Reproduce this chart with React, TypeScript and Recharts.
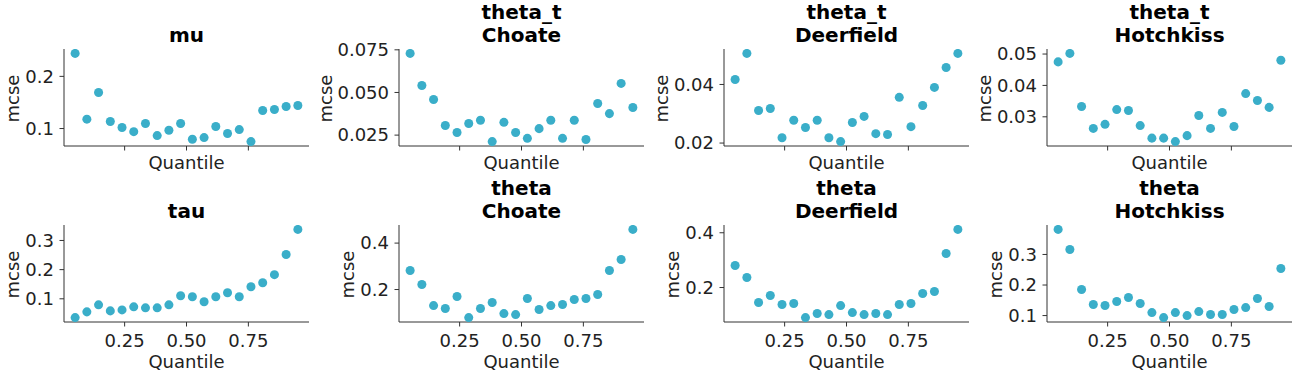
import React from 'react';
import { ScatterChart, Scatter, XAxis, YAxis } from 'recharts';

// ---------- DATA ----------
const QUANTILES = [0.05, 0.0974, 0.1447, 0.1921, 0.2395, 0.2868, 0.3342, 0.3816, 0.4289, 0.4763, 0.5237, 0.5711, 0.6184, 0.6658, 0.7132, 0.7605, 0.8079, 0.8553, 0.9026, 0.95];
const X_TICKS = [0.25, 0.5, 0.75];

const MU = [0.244, 0.118, 0.169, 0.1135, 0.102, 0.094, 0.1096, 0.0865, 0.0967, 0.1096, 0.0794, 0.0827, 0.1038, 0.0904, 0.098, 0.075, 0.1346, 0.1365, 0.1423, 0.1442];
const THETA_T_CHOATE = [0.0729, 0.0541, 0.0459, 0.0306, 0.0265, 0.0318, 0.0337, 0.0212, 0.0325, 0.0265, 0.0231, 0.0288, 0.0337, 0.0231, 0.0337, 0.0224, 0.0435, 0.0376, 0.0553, 0.0412];
const THETA_T_DEERFIELD = [0.0417, 0.0506, 0.0311, 0.0318, 0.0218, 0.0278, 0.0253, 0.0278, 0.0218, 0.0205, 0.027, 0.0291, 0.0232, 0.0229, 0.0356, 0.0256, 0.0328, 0.039, 0.0458, 0.0506];
const THETA_T_HOTCHKISS = [0.0475, 0.0502, 0.0333, 0.0263, 0.0276, 0.0323, 0.032, 0.0272, 0.0232, 0.0232, 0.0221, 0.024, 0.0304, 0.0263, 0.0314, 0.0269, 0.0374, 0.0352, 0.033, 0.048];
const TAU = [0.0356, 0.0552, 0.0793, 0.0586, 0.062, 0.0724, 0.069, 0.069, 0.0793, 0.1103, 0.1069, 0.0897, 0.1069, 0.1207, 0.1069, 0.1414, 0.1552, 0.1828, 0.2517, 0.3379];
const THETA_CHOATE = [0.282, 0.2216, 0.1309, 0.118, 0.1698, 0.0791, 0.118, 0.1439, 0.0964, 0.0921, 0.1612, 0.1137, 0.1309, 0.1353, 0.1568, 0.1612, 0.1784, 0.282, 0.3295, 0.459];
const THETA_DEERFIELD = [0.2805, 0.2366, 0.1451, 0.1707, 0.1378, 0.1415, 0.0902, 0.1049, 0.1012, 0.1341, 0.1085, 0.1012, 0.1049, 0.1012, 0.1378, 0.1415, 0.178, 0.1854, 0.3244, 0.4122];
const THETA_HOTCHKISS = [0.382, 0.3164, 0.1852, 0.1361, 0.1328, 0.1459, 0.159, 0.1393, 0.1098, 0.0934, 0.1098, 0.1, 0.1131, 0.1033, 0.1033, 0.1197, 0.1262, 0.1557, 0.1295, 0.2541];

const TITLES = [
  ['mu'], ['theta_t', 'Choate'], ['theta_t', 'Deerfield'], ['theta_t', 'Hotchkiss'],
  ['tau'], ['theta', 'Choate'], ['theta', 'Deerfield'], ['theta', 'Hotchkiss'],
];
const SERIES = [MU, THETA_T_CHOATE, THETA_T_DEERFIELD, THETA_T_HOTCHKISS, TAU, THETA_CHOATE, THETA_DEERFIELD, THETA_HOTCHKISS];
const Y_TICKS = [
  [0.1, 0.2], [0.025, 0.05, 0.075], [0.02, 0.04], [0.03, 0.04, 0.05],
  [0.1, 0.2, 0.3], [0.2, 0.4], [0.2, 0.4], [0.1, 0.2, 0.3],
];
const Y_DECIMALS = [1, 3, 2, 2, 1, 1, 1, 1];
const X_LABEL = 'Quantile';
const Y_LABEL = 'mcse';

// ---------- LAYOUT ----------
const COL_LEFT = [64, 399, 724, 1047];
const ROW_TOP = [49, 225];
const AX_W = 245;
const AX_H = 97;
const Y_AXIS_W = 80;
const TOP_M = 10;
const X_AXIS_H = 40;
const RIGHT_M = 5;
const YLABEL_OFF = [45, 67.5, 56, 56, 45, 45, 45, 45];
const DOT = '#3aaec9';
const AXIS_COLOR = '#333333';
const TICK_COLOR = '#222222';
const FONT = "'DejaVu Sans', sans-serif";

function domainOf(lo: number, hi: number): [number, number] {
  const r = hi - lo;
  return [lo - 0.05 * r, hi + 0.05 * r];
}

function Panel({ idx }: { idx: number }) {
  const row = idx < 4 ? 0 : 1;
  const col = idx % 4;
  const vals = SERIES[idx];
  const data = QUANTILES.map((q, i) => ({ x: q, y: vals[i] }));
  const yDom = domainOf(Math.min(...vals), Math.max(...vals));
  const xDom = domainOf(QUANTILES[0], QUANTILES[QUANTILES.length - 1]);
  const left = COL_LEFT[col] - Y_AXIS_W;
  const top = ROW_TOP[row] - TOP_M;
  const w = Y_AXIS_W + AX_W + RIGHT_M;
  const h = TOP_M + AX_H + X_AXIS_H;
  const dec = Y_DECIMALS[idx];
  return (
    <div style={{ position: 'absolute', left, top, width: w, height: h }}>
      <ScatterChart width={w} height={h} margin={{ top: TOP_M, right: RIGHT_M, bottom: 0, left: 0 }}>
        <XAxis
          type="number"
          dataKey="x"
          domain={xDom}
          ticks={X_TICKS}
          allowDataOverflow
          height={X_AXIS_H}
          tickSize={4.5}
          tickMargin={7.5}
          stroke={AXIS_COLOR}
          axisLine={{ stroke: AXIS_COLOR, strokeWidth: 1 }}
          tickLine={{ stroke: AXIS_COLOR, strokeWidth: 1 }}
          tick={{ fontSize: 18, fill: TICK_COLOR, fontFamily: FONT }}
          tickFormatter={(v: number) => (row === 1 ? v.toFixed(2) : '')}
          interval={0}
        />
        <YAxis
          type="number"
          dataKey="y"
          domain={yDom}
          ticks={Y_TICKS[idx]}
          allowDataOverflow
          width={Y_AXIS_W}
          tickSize={4.5}
          tickMargin={5.5}
          stroke={AXIS_COLOR}
          axisLine={{ stroke: AXIS_COLOR, strokeWidth: 1 }}
          tickLine={{ stroke: AXIS_COLOR, strokeWidth: 1 }}
          tick={{ fontSize: 18, fill: TICK_COLOR, fontFamily: FONT }}
          tickFormatter={(v: number) => v.toFixed(dec)}
          interval={0}
        />
        <Scatter data={data} fill={DOT} isAnimationActive={false} />
      </ScatterChart>
    </div>
  );
}

function Labels() {
  const items: React.ReactNode[] = [];
  for (let idx = 0; idx < 8; idx++) {
    const row = idx < 4 ? 0 : 1;
    const col = idx % 4;
    const cx = COL_LEFT[col] + AX_W / 2;
    const axTop = ROW_TOP[row];
    const axBottom = axTop + AX_H;
    const t = TITLES[idx];
    const lastBase = axTop - 7;
    t.forEach((line, li) => {
      items.push(
        <text key={`t${idx}-${li}`} x={cx} y={lastBase - (t.length - 1 - li) * 23.4} textAnchor="middle"
          fontSize={20} fontWeight="bold" fill="#000">{line}</text>
      );
    });
    items.push(
      <text key={`x${idx}`} x={cx} y={row === 0 ? axBottom + 23 : axBottom + 46} textAnchor="middle"
        fontSize={18} fill={TICK_COLOR}>{X_LABEL}</text>
    );
    const lx = COL_LEFT[col] - YLABEL_OFF[idx];
    const ly = axTop + AX_H / 2 + 1;
    items.push(
      <text key={`y${idx}`} x={lx} y={ly} textAnchor="middle" transform={`rotate(-90 ${lx} ${ly})`}
        fontSize={18} fill={TICK_COLOR}>{Y_LABEL}</text>
    );
  }
  return (
    <svg width={1295} height={376} style={{ position: 'absolute', left: 0, top: 0, pointerEvents: 'none' }}
      fontFamily={FONT}>
      {items}
    </svg>
  );
}

export default function App() {
  return (
    <div style={{ position: 'absolute', left: 0, top: 0, width: 1295, height: 376, background: '#fff', fontFamily: FONT, overflow: 'hidden' }}>
      {SERIES.map((_, i) => <Panel key={i} idx={i} />)}
      <Labels />
    </div>
  );
}
